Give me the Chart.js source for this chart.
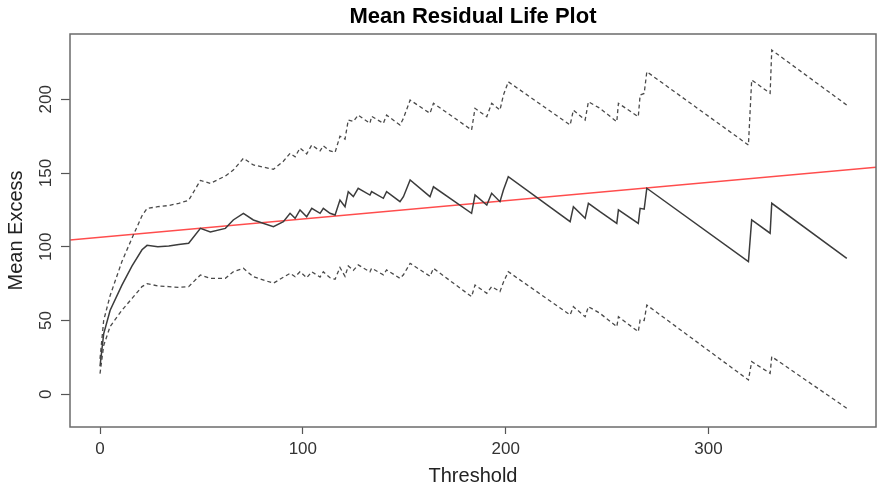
<!DOCTYPE html>
<html>
<head>
<meta charset="utf-8">
<title>Mean Residual Life Plot</title>
<script src="https://cdn.jsdelivr.net/npm/chart.js@4.4.1/dist/chart.umd.min.js"></script>
<style>
    html, body { margin: 0; padding: 0; background: #ffffff; }
    #wrap { width: 877px; height: 491px; }
</style>
</head>
<body>
<div id="wrap"><canvas id="chart" width="877" height="491"></canvas></div>
<script>
// Data (threshold -> mean excess with its confidence band)
const thresholds = [0, 1.8, 5, 10.8, 15.8, 20.7, 23.2, 28.5, 33.9, 38.8, 43.7, 49.5, 54.4, 61.8, 65.7, 70.7, 75.6, 85.5,
    90.4, 93.7, 96.2, 98.6, 101.9, 104.4, 108.5, 110.1, 113.4, 115.9, 118.3, 120.8, 122.4, 124.9, 127.3,
    133.1, 133.9, 139.7, 141.3, 147.9, 149.6, 152.9, 162.7, 164.4, 183.2, 184.9, 190.7, 193.1, 197.2,
    198.9, 201.3, 231.8, 233.4, 239.2, 240.8, 246.5, 254.8, 255.6, 265.4, 266.3, 268.3, 269.6, 319.7,
    321.3, 330.4, 331.2, 368.2];
const meanExcess = [19, 41, 57, 74, 87, 98, 101, 100, 100.5, 101.5, 102.4, 112.5, 110, 112.5, 118.2, 122.7, 118.2, 113.6,
    117, 122.7, 119.3, 125, 120.4, 126.1, 122.7, 126.1, 122.7, 121.6, 131.7, 127.2, 137.4, 134, 139.7,
    135.1, 137.4, 132.9, 137.4, 130.6, 134, 145.3, 134, 140.7, 122.7, 135.1, 128.3, 136.3, 130.6,
    138.5, 147.5, 117, 127.2, 119.3, 129.5, 123.8, 115.9, 125, 115.9, 126.1, 125.5, 139.7, 89.9,
    118.2, 109.2, 129.5, 92.2];
const upperCI = [24, 50, 67, 90, 106, 121, 126, 127.2, 128, 129.5, 131.5, 145, 143, 148, 152, 160, 155.5, 152.5,
    158, 163.4, 161, 167, 163, 169, 165, 168.5, 165, 164, 175, 173, 186, 185, 189.3,
    183.7, 188.5, 183.7, 189.3, 182.6, 187.1, 199.5, 190.5, 197.3, 179.2, 193.9, 188.2, 197.3, 192.7,
    202.9, 211.9, 182.6, 192.7, 186, 198.4, 193.9, 184.8, 197.3, 188.2, 202.9, 204, 218.7, 169,
    213.1, 204.1, 233.4, 196.1];
const lowerCI = [14, 33, 46, 57, 65, 73, 75, 73.5, 73, 72.5, 73, 80.9, 78.6, 78.6, 83, 85.4, 79.7, 75.3,
    79.4, 82, 79.7, 83.1, 79, 83, 79.5, 83, 79, 78, 86, 80, 87, 84, 87.7,
    83, 85.5, 81, 84.3, 78.6, 81, 88.8, 80, 85.4, 66.2, 74.1, 68.5, 73, 69.6,
    76, 83.1, 53.8, 59.4, 52.6, 59.4, 54.9, 45.8, 52.6, 42.4, 50.4, 50, 60.5, 9.7,
    22.1, 14.2, 25.5, -9.5];

// Red reference line, two end points outside the plot range
const refLineX = [-20, 390];
const refLineY = [103.9, 154.9];

// Axis ranges and tick labels
const xRange = [-14.8, 382.6];
const yRange = [-22.2, 244.3];
const xTicks = [0, 100, 200, 300];
const yTicks = [0, 50, 100, 150, 200];

const FONT = "'Liberation Sans', Arial, sans-serif";

const toPoints = (xs, ys) => xs.map((x, i) => ({ x: x, y: ys[i] }));

// Draws the box round the plotting region, like R's bty="o"
const boxPlugin = {
    id: 'plotBox',
    afterDatasetsDraw(chart) {
        const { ctx, chartArea: a } = chart;
        ctx.save();
        ctx.strokeStyle = '#6b6b6b';
        ctx.lineWidth = 1.5;
        ctx.strokeRect(a.left, a.top, a.right - a.left, a.bottom - a.top);
        ctx.restore();
    }
};

const chart = new Chart(document.getElementById('chart'), {
    type: 'line',
    data: {
        datasets: [
            {
                label: 'Mean Excess',
                data: toPoints(thresholds, meanExcess),
                borderColor: '#3c3c3c',
                borderWidth: 1.5,
                pointRadius: 0,
                tension: 0,
                fill: false
            },
            {
                label: 'Upper CI',
                data: toPoints(thresholds, upperCI),
                borderColor: '#4a4a4a',
                borderWidth: 1.3,
                borderDash: [4, 3],
                pointRadius: 0,
                tension: 0,
                fill: false
            },
            {
                label: 'Lower CI',
                data: toPoints(thresholds, lowerCI),
                borderColor: '#4a4a4a',
                borderWidth: 1.3,
                borderDash: [4, 3],
                pointRadius: 0,
                tension: 0,
                fill: false
            },
            {
                label: 'Reference',
                data: toPoints(refLineX, refLineY),
                borderColor: '#ff4d4d',
                borderWidth: 1.5,
                pointRadius: 0,
                tension: 0,
                fill: false
            }
        ]
    },
    options: {
        responsive: false,
        animation: false,
        layout: { padding: { right: 1 } },
        scales: {
            x: {
                type: 'linear',
                min: xRange[0],
                max: xRange[1],
                afterFit(scale) { scale.height = 64; },
                afterBuildTicks(scale) { scale.ticks = xTicks.map(v => ({ value: v })); },
                grid: { drawOnChartArea: false, tickLength: 7, tickColor: '#555', tickWidth: 1.2 },
                border: { display: false },
                ticks: {
                    color: '#333',
                    padding: 5,
                    maxRotation: 0,
                    font: { family: FONT, size: 17 }
                },
                title: {
                    display: true,
                    text: 'Threshold',
                    color: '#222',
                    font: { family: FONT, size: 20 },
                    padding: { top: 0, bottom: 3 }
                }
            },
            y: {
                type: 'linear',
                min: yRange[0],
                max: yRange[1],
                afterFit(scale) { scale.width = 70; },
                afterBuildTicks(scale) { scale.ticks = yTicks.map(v => ({ value: v })); },
                grid: { drawOnChartArea: false, tickLength: 9, tickColor: '#555', tickWidth: 1.2 },
                border: { display: false },
                ticks: {
                    color: '#333',
                    padding: 1,
                    minRotation: 90,
                    maxRotation: 90,
                    crossAlign: 'center',
                    font: { family: FONT, size: 17 }
                },
                title: {
                    display: true,
                    text: 'Mean Excess',
                    color: '#222',
                    font: { family: FONT, size: 20 },
                    padding: { top: 4.5, bottom: 0 }
                }
            }
        },
        plugins: {
            legend: { display: false },
            tooltip: { enabled: false },
            title: {
                display: true,
                fullSize: false,
                text: 'Mean Residual Life Plot',
                color: '#000',
                font: { family: FONT, size: 22, weight: 'bold' },
                padding: { top: 4, bottom: 3.6 }
            }
        }
    },
    plugins: [boxPlugin]
});
</script>
</body>
</html>
